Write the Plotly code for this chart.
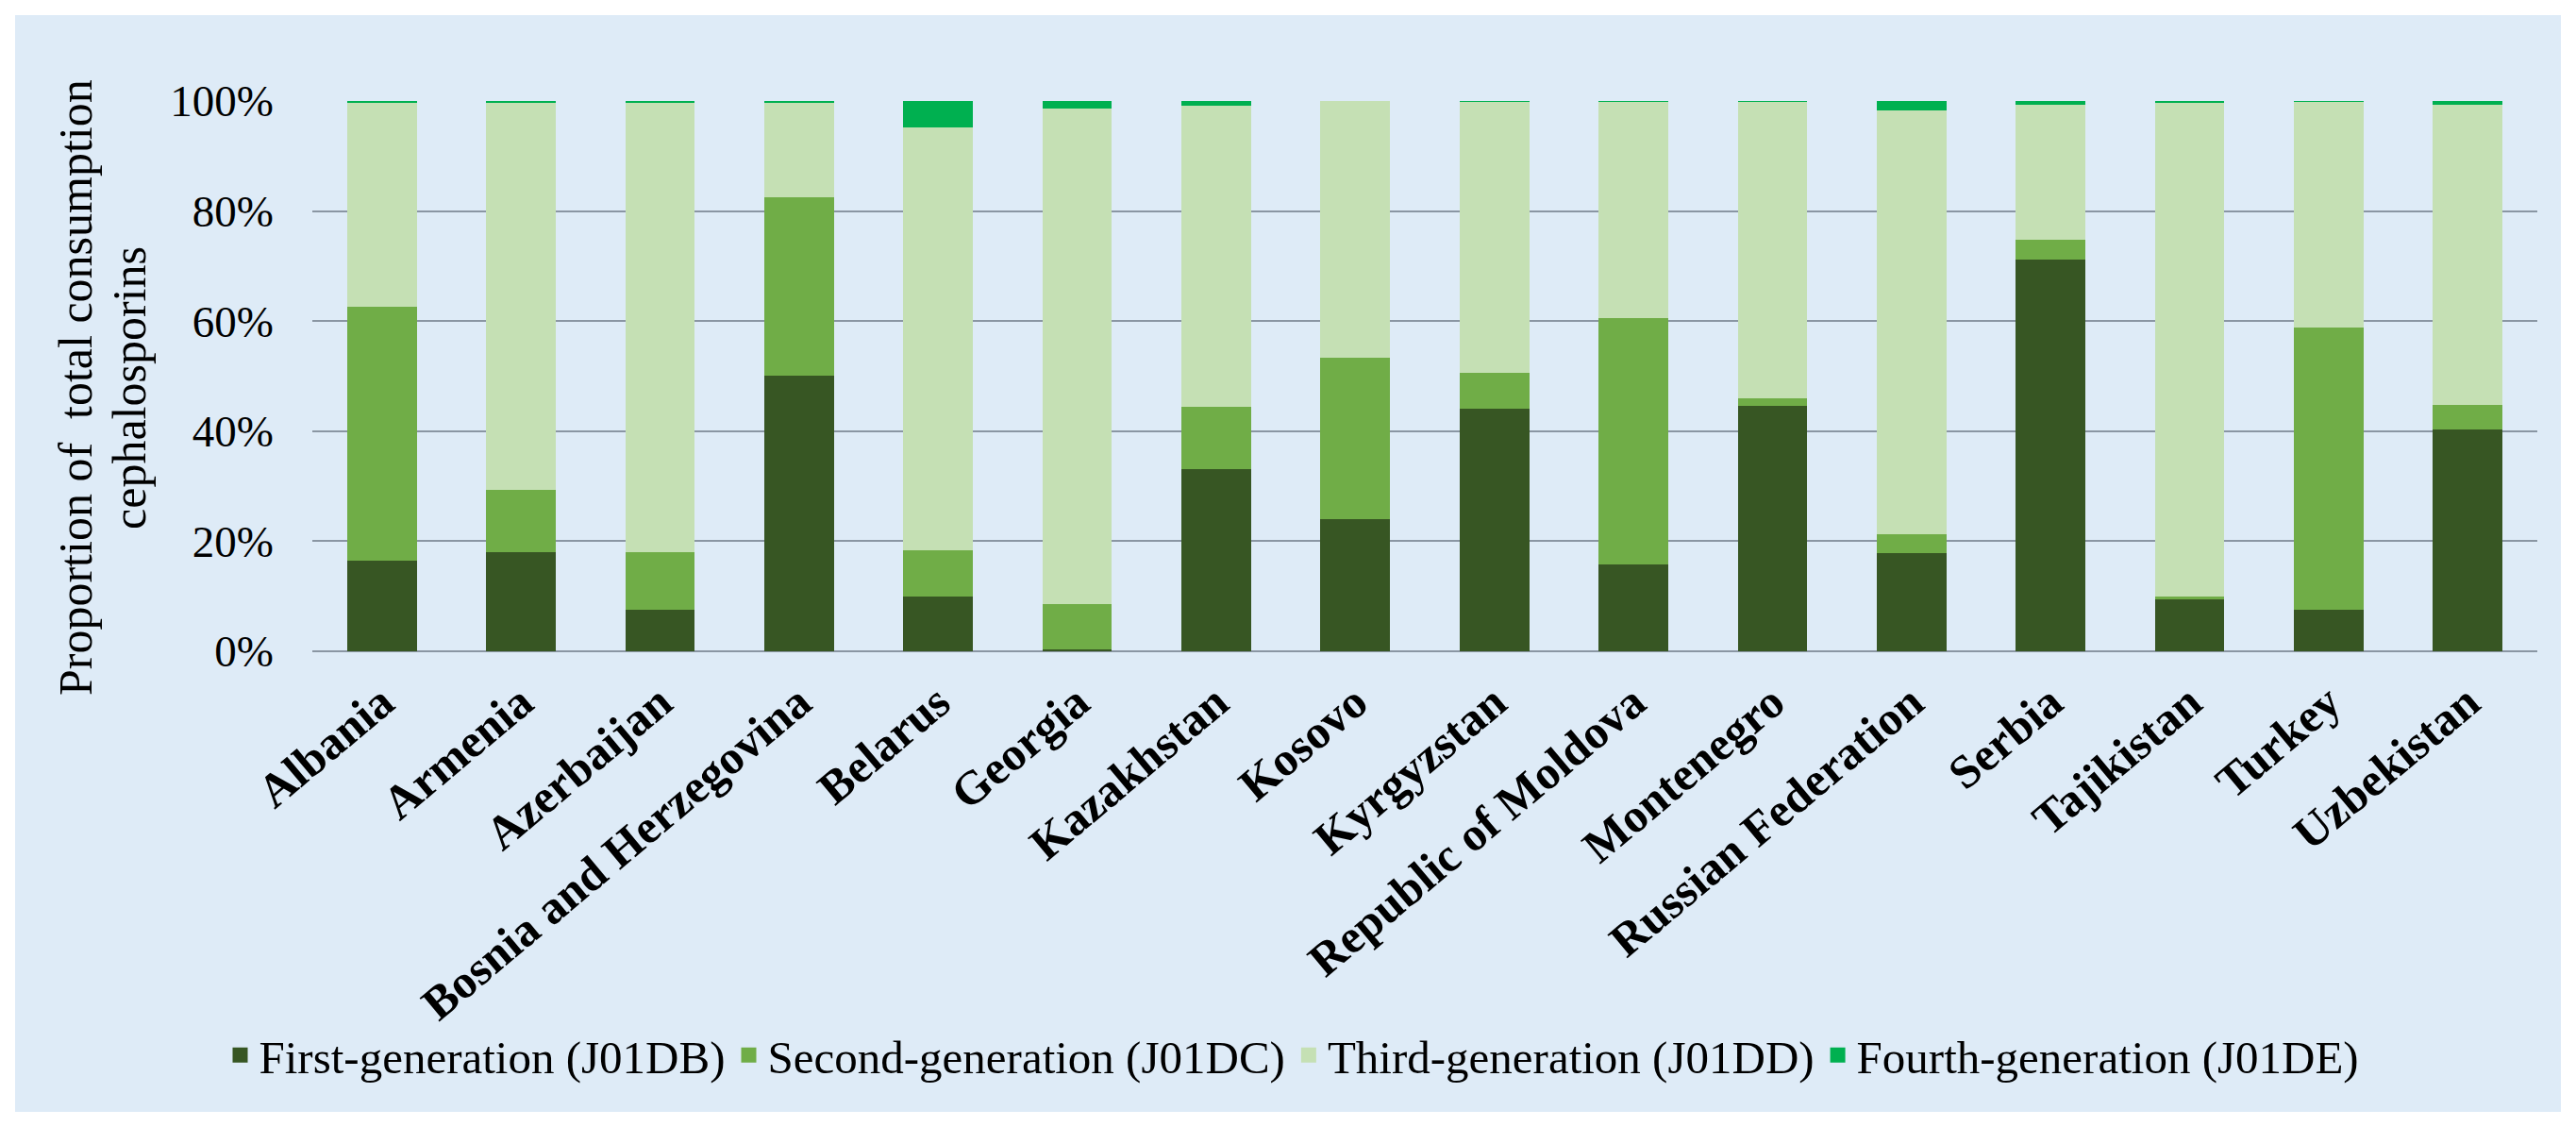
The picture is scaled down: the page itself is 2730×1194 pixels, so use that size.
import plotly.graph_objects as go

countries = ["Albania", "Armenia", "Azerbaijan", "Bosnia and Herzegovina", "Belarus",
             "Georgia", "Kazakhstan", "Kosovo", "Kyrgyzstan", "Republic of Moldova",
             "Montenegro", "Russian Federation", "Serbia", "Tajikistan", "Turkey",
             "Uzbekistan"]

# share of total cephalosporin consumption, %
first_gen = [16.5, 18.0, 7.6, 50.1, 10.0, 0.3, 33.1, 24.0, 44.1, 15.8, 44.6, 17.9, 71.2, 9.4, 7.6, 40.3]
second_gen = [46.1, 11.4, 10.4, 32.4, 8.3, 8.3, 11.3, 29.4, 6.5, 44.8, 1.4, 3.4, 3.6, 0.6, 51.2, 4.5]
third_gen = [37.2, 70.4, 81.8, 17.3, 76.9, 90.1, 54.7, 46.6, 49.3, 39.3, 53.9, 77.0, 24.6, 89.7, 41.1, 54.5]
fourth_gen = [0.2, 0.2, 0.2, 0.2, 4.8, 1.3, 0.9, 0.0, 0.1, 0.1, 0.1, 1.7, 0.6, 0.3, 0.1, 0.7]

series = [
    ("First-generation (J01DB)", first_gen, "#375623"),
    ("Second-generation (J01DC)", second_gen, "#70AD47"),
    ("Third-generation (J01DD)", third_gen, "#C5E0B4"),
    ("Fourth-generation (J01DE)", fourth_gen, "#00B050"),
]

ytitle_lines = ["Proportion of  total consumption", "cephalosporins"]

serif = "Liberation Serif, Times New Roman, serif"

fig = go.Figure()
for name, vals, col in series:
    fig.add_trace(go.Bar(x=countries, y=vals, name=name, legendgroup=name,
                         showlegend=False,
                         marker=dict(color=col, line=dict(width=0))))
    # square legend key (bigger than the default bar key)
    fig.add_trace(go.Scatter(x=[None], y=[None], mode="markers", name=name,
                             legendgroup=name,
                             marker=dict(symbol="square", size=16, color=col)))

# page body has an 8px margin, so everything is laid out 8px in
W, H = 2714, 1178
L, R, T, B = 323, 33, 99, 496
pw, ph = W - L - R, H - T - B


def px_x(v):
    return (v - L) / pw


def px_y(v):
    return (H - B - v) / ph


# light blue chart panel with a thin white border
fig.add_shape(type="rect", xref="paper", yref="paper", layer="below",
              x0=px_x(8), x1=px_x(2706), y0=px_y(1170), y1=px_y(8),
              fillcolor="#DEEBF7", line=dict(width=0))

# y-axis title, two tightly spaced lines
for xpos, line in zip([72, 129], ytitle_lines):
    fig.add_annotation(text=line, xref="paper", yref="paper",
                       x=px_x(xpos), y=px_y(403), xanchor="center", yanchor="middle",
                       textangle=-90, showarrow=False,
                       font=dict(family=serif, size=50, color="black"))

fig.update_layout(
    width=W, height=H,
    margin=dict(l=L, r=R, t=T, b=B, autoexpand=False),
    barmode="stack", bargap=0.5,
    paper_bgcolor="white", plot_bgcolor="rgba(0,0,0,0)",
    font=dict(family=serif, color="black"),
    legend=dict(orientation="h", x=px_x(1362), xanchor="center",
                y=px_y(1110), yanchor="middle", itemsizing="trace",
                font=dict(family=serif, size=49), bgcolor="rgba(0,0,0,0)",
                traceorder="normal", itemwidth=30),
    showlegend=True,
)

fig.update_yaxes(range=[0, 100], dtick=20, ticksuffix="%",
                 tickfont=dict(family=serif, size=47),
                 gridcolor="#8A96A3", gridwidth=2,
                 zeroline=True, zerolinecolor="#8A96A3", zerolinewidth=2,
                 showline=False, ticklabelstandoff=40)

fig.update_xaxes(tickangle=-40, showline=False, showgrid=False,
                 tickfont=dict(family=serif, size=50, weight="bold"),
                 ticklabelstandoff=14)

fig.write_html("out.html")
